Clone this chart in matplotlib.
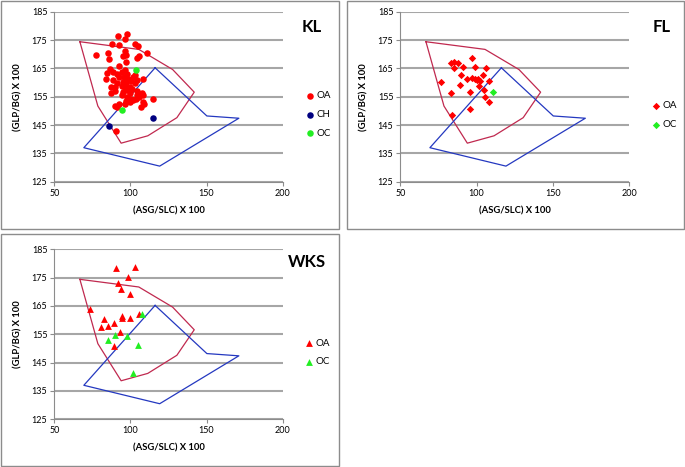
import matplotlib
matplotlib.use('Agg')
import matplotlib.pyplot as plt
from matplotlib.patches import Rectangle

plt.rcParams['font.family'] = ['Lato', 'DejaVu Sans']

# reference fields, same on every panel
red_poly_x = [66.8, 105.5, 127.7, 141.9, 130.5, 111.4, 93.9, 78.6, 66.8]
red_poly_y = [174.4, 171.7, 164.6, 156.6, 147.6, 141.2, 138.6, 151.7, 174.4]
blue_poly_x = [116.2, 150.2, 171.2, 119.2, 69.4, 116.2]
blue_poly_y = [165.2, 148.2, 147.4, 130.5, 137.0, 165.2]

# KL
kl_oa_x = [92.0, 97.7, 96.4, 88.1, 92.3, 103.0, 104.7, 77.2, 85.5, 96.6, 97.1, 85.7, 94.9,
           104.5, 105.8, 110.7, 97.1, 86.6, 92.5, 96.4, 88.8, 84.8, 91.0, 94.2, 97.5, 83.9,
           88.3, 92.7, 95.8, 98.6, 101.9, 103.0, 104.3, 108.0, 91.0, 94.9, 97.1, 100.1, 103.0,
           87.0, 89.8, 94.2, 96.4, 99.7, 101.0, 89.8, 87.0, 94.9, 97.5, 99.7, 104.5, 104.1,
           107.4, 94.4, 97.7, 100.4, 101.9, 103.7, 105.5, 108.0, 97.1, 96.4, 99.7, 92.7, 108.0,
           114.6, 89.8, 91.3, 108.9, 106.7, 90.5]
kl_oa_y = [176.5, 177.2, 175.4, 173.7, 173.4, 173.5, 172.9, 169.7, 170.5, 171.1, 169.7, 168.4, 169.4,
           168.5, 169.4, 170.3, 167.4, 164.8, 165.8, 164.6, 163.8, 163.2, 163.0, 163.8, 163.0, 161.2,
           160.9, 161.8, 162.1, 161.1, 161.8, 162.6, 160.9, 161.2, 159.9, 160.3, 159.7, 160.4, 159.7,
           158.5, 158.3, 158.9, 158.3, 158.5, 157.6, 157.1, 156.2, 156.8, 157.4, 156.2, 157.1, 155.7,
           156.4, 155.6, 155.0, 154.3, 153.8, 154.1, 154.8, 155.7, 153.6, 152.6, 153.2, 152.4, 153.2,
           154.1, 151.8, 151.2, 152.4, 151.5, 143.0]
kl_ch_x = [85.7, 115.0]
kl_ch_y = [144.6, 147.4]
kl_oc_x = [103.6, 94.7]
kl_oc_y = [164.6, 150.3]

# FL
fl_oa_x = [83.2, 85.4, 87.6, 85.4, 90.8, 97.0, 99.1, 106.1, 76.6, 89.5, 93.6, 97.0, 99.0, 100.0,
           101.1, 102.2, 104.4, 108.3, 89.1, 101.3, 104.8, 95.6, 83.2, 105.7, 107.9, 95.6, 83.8]
fl_oa_y = [167.0, 167.1, 166.8, 165.2, 165.6, 168.6, 165.6, 165.1, 160.1, 162.8, 161.1, 161.5, 161.1, 160.9,
           161.4, 160.4, 162.5, 160.4, 159.1, 158.8, 157.5, 156.6, 156.2, 155.0, 153.2, 150.5, 148.5]
fl_oc_x = [110.5]
fl_oc_y = [156.6]

# WKS
wks_oa_x = [90.5, 103.0, 98.2, 91.6, 93.8, 99.9, 73.4, 82.4, 80.7, 85.0, 89.4, 94.7, 94.3, 99.9,
            105.4, 93.1, 89.0]
wks_oa_y = [178.5, 178.9, 175.1, 173.2, 171.0, 169.4, 163.8, 160.3, 157.7, 158.1, 159.1, 161.5, 160.8, 160.9,
            162.2, 155.9, 151.0]
wks_oc_x = [107.4, 89.6, 97.5, 85.5, 104.7, 101.9]
wks_oc_y = [162.2, 154.8, 154.5, 152.9, 151.4, 141.2]

W, H = 685, 467
fig = plt.figure(figsize=(6.85, 4.67), dpi=100)


def px(x0, y0, w, h):
    # pixel box (top-left origin) -> figure fraction
    return [x0 / W, 1 - (y0 + h) / H, w / W, h / H]


# panel frames
for (x0, y0, w, h) in [(1, 1, 338, 228), (347, 1, 337, 228), (1, 234, 338, 232)]:
    fig.patches.append(Rectangle((x0 / W, 1 - (y0 + h) / H), w / W, h / H,
                                 transform=fig.transFigure, fill=False,
                                 edgecolor='#8c8c8c', linewidth=1))


def panel(box, groups, title, title_xy, leg_xy):
    ax = fig.add_axes(px(*box))
    ax.set_xlim(50, 200)
    ax.set_ylim(125, 185)
    ax.set_xticks([50, 100, 150, 200])
    ax.set_yticks(range(125, 186, 10))
    ax.yaxis.grid(True, color='#a6a6a6', linewidth=1.5)
    ax.set_axisbelow(True)
    for s in ['top', 'right']:
        ax.spines[s].set_visible(False)
    for s in ['left', 'bottom']:
        ax.spines[s].set_color('#8c8c8c')
        ax.spines[s].set_linewidth(0.8)
    ax.tick_params(labelsize=6.5, length=3, width=0.8, color='#8c8c8c', pad=2)
    ax.plot(red_poly_x, red_poly_y, color='#c0294f', linewidth=0.9)
    ax.plot(blue_poly_x, blue_poly_y, color='#2438c0', linewidth=0.9)
    for x, y, m, c, s, lab in groups:
        ax.scatter(x, y, marker=m, color=c, s=s, linewidths=0, label=lab, zorder=3)
    ax.set_xlabel('(ASG/SLC) X 100', fontsize=6.8, fontweight='bold', labelpad=6)
    ax.set_ylabel('(GLP/BG) X 100', fontsize=6.8, fontweight='bold', labelpad=7)
    fig.text(title_xy[0] / W, 1 - title_xy[1] / H, title, fontsize=12,
             fontweight='bold', ha='center', va='center')
    ax.legend(loc='center left', bbox_to_anchor=(leg_xy[0] / W, 1 - leg_xy[1] / H),
              bbox_transform=fig.transFigure, frameon=False, fontsize=7,
              borderpad=0, borderaxespad=0, handlelength=0.8, handletextpad=0.3,
              labelspacing=1.0, scatterpoints=1)
    return ax


panel((54.3, 11.7, 228.4, 170), [
    (kl_oa_x, kl_oa_y, 'o', '#ff0000', 22, 'OA'),
    (kl_ch_x, kl_ch_y, 'o', '#000080', 22, 'CH'),
    (kl_oc_x, kl_oc_y, 'o', '#22ee22', 22, 'OC'),
], 'KL', (311.7, 26.7), (306, 114.7))

panel((400.3, 11.7, 229, 170), [
    (fl_oa_x, fl_oa_y, 'D', '#ff0000', 14, 'OA'),
    (fl_oc_x, fl_oc_y, 'D', '#22ee22', 14, 'OC'),
], 'FL', (662, 26.7), (652, 115.2))

panel((54.3, 249.3, 228.4, 170), [
    (wks_oa_x, wks_oa_y, '^', '#ff0000', 24, 'OA'),
    (wks_oc_x, wks_oc_y, '^', '#22ee22', 24, 'OC'),
], 'WKS', (306.7, 261.7), (304.7, 352.5))

fig.savefig('out.png', dpi=100)
